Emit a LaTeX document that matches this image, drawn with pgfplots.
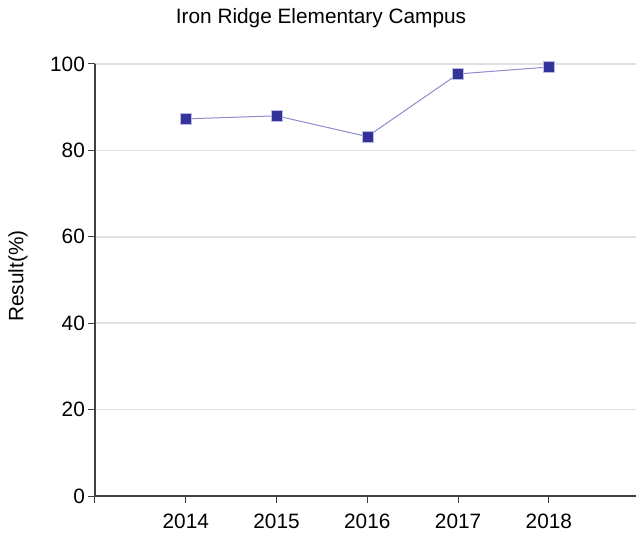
\documentclass[border=0pt]{standalone}
\usepackage{fontspec}
\setmainfont{Liberation Sans}
\usepackage{pgfplots}
\pgfplotsset{compat=1.18}
\definecolor{mk}{RGB}{51,51,153}
\definecolor{ln}{RGB}{140,140,208}
\definecolor{gr}{RGB}{224,224,224}
\definecolor{axc}{RGB}{64,64,64}
\begin{document}
\fontsize{20.8bp}{25bp}\selectfont
\begin{tikzpicture}
\path[use as bounding box] (-95bp,-40bp) rectangle (541bp,496bp);
\begin{axis}[
  scale only axis, width=541bp, height=432bp,
  at={(0,0)}, anchor=south west,
  xmin=2013, xmax=2018.96, ymin=0, ymax=100,
  axis x line=bottom, axis y line=left,
  axis line style={-, axc, line width=1.2bp},
  xtick={2013,2014,2015,2016,2017,2018},
  xticklabels={,2014,2015,2016,2017,2018},
  ytick={0,20,40,60,80,100},
  tick align=outside, major tick length=7bp,
  tick style={axc, line width=1bp},
  ymajorgrids, grid style={gr, line width=1.5bp},
  font=\fontsize{20.8bp}{25bp}\selectfont,
  /pgf/number format/assume math mode=true,
  yticklabel style={inner sep=0pt, xshift=-3bp},
  xticklabel style={yshift=-4bp},
  ylabel={Result(\%)},
  ylabel style={at={(axis description cs:-0.1423,0.509)}, anchor=center},
  clip=false,
]
\addplot[ln, line width=1bp, mark=square*, mark size=5.5bp,
  mark options={fill=mk, draw=ln!60!white, line width=0.6bp}]
  coordinates {(2014,87.3) (2015,88.0) (2016,83.2) (2017,97.7) (2018,99.3)};
\end{axis}
\node[anchor=base] at (226bp,472.7bp) {Iron Ridge Elementary Campus};
\end{tikzpicture}
\end{document}
